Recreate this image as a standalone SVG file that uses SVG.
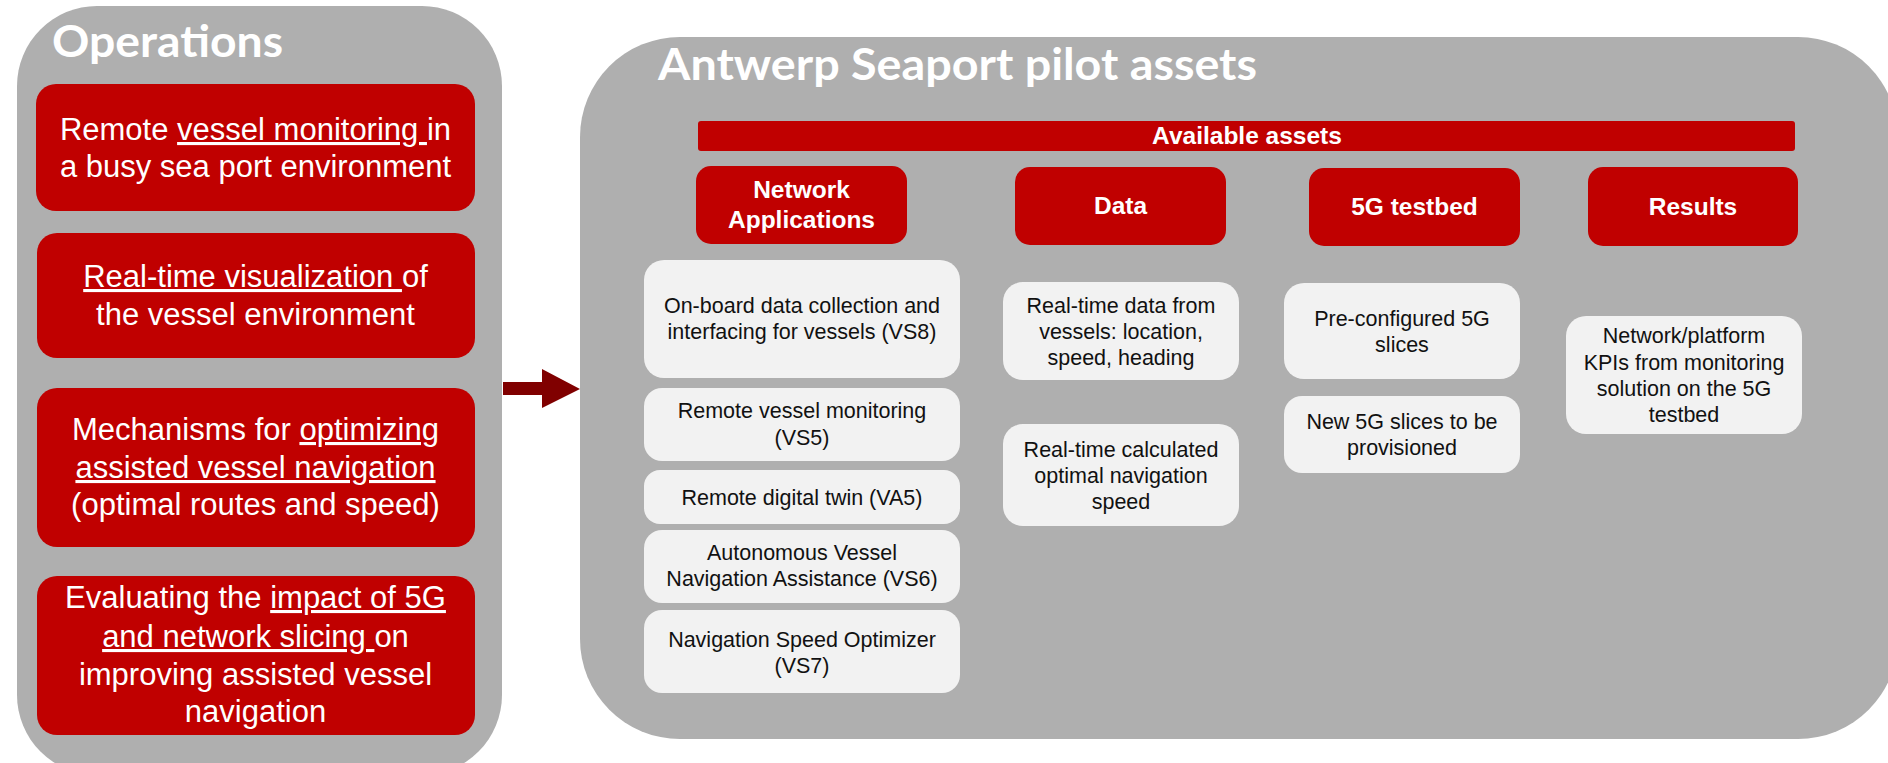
<svg xmlns="http://www.w3.org/2000/svg" width="1888" height="763" viewBox="0 0 1888 763">
<style>
.panel{fill:#AFAFAF}
.red{fill:#C00000}
.wbox{fill:#F2F2F2}
.title{font-family:Lato,"Liberation Sans",sans-serif;font-weight:700;font-size:44px;fill:#FFFFFF}
.op{font-family:"Liberation Sans",Arial,sans-serif;font-size:31px;fill:#FFFFFF;text-anchor:middle}
.hd{font-family:"Liberation Sans",Arial,sans-serif;font-weight:700;font-size:24.5px;fill:#FFFFFF;text-anchor:middle}
.bx{font-family:"Liberation Sans",Arial,sans-serif;font-size:21.5px;fill:#111111;text-anchor:middle}
.u{text-decoration:underline}
</style>
<rect width="1888" height="763" fill="#FFFFFF"/>

<g id="operations-panel">
<rect class="panel" x="17" y="6" width="485" height="769" rx="80"/>
<text class="title" x="52" y="57" textLength="231" lengthAdjust="spacingAndGlyphs">Operations</text>
</g>

<g id="op1">
<rect class="red" x="36" y="84" width="439" height="127" rx="20"/>
<text class="op" x="255.5" y="140">Remote <tspan class="u">vessel monitoring </tspan>in</text>
<text class="op" x="255.5" y="177">a busy sea port environment</text>
</g>
<g id="op2">
<rect class="red" x="37" y="233" width="438" height="125" rx="20"/>
<text class="op" x="255.5" y="287"><tspan class="u">Real-time visualization </tspan>of</text>
<text class="op" x="255.5" y="325">the vessel environment</text>
</g>
<g id="op3">
<rect class="red" x="37" y="388" width="438" height="159" rx="20"/>
<text class="op" x="255.5" y="440">Mechanisms for <tspan class="u">optimizing</tspan></text>
<text class="op" x="255.5" y="478"><tspan class="u">assisted vessel navigation</tspan></text>
<text class="op" x="255.5" y="515">(optimal routes and speed)</text>
</g>
<g id="op4">
<rect class="red" x="37" y="576" width="438" height="159" rx="20"/>
<text class="op" x="255.5" y="608">Evaluating the <tspan class="u">impact of 5G</tspan></text>
<text class="op" x="255.5" y="647"><tspan class="u">and network slicing </tspan>on</text>
<text class="op" x="255.5" y="685">improving assisted vessel</text>
<text class="op" x="255.5" y="722">navigation</text>
</g>

<g id="connectors">
<polygon fill="#800000" points="503,382 542,382 542,369 580,389 542,408 542,395 503,395"/>
</g>

<g id="assets-panel">
<rect class="panel" x="580" y="37" width="1318" height="702" rx="100"/>
<text class="title" x="658" y="80" textLength="599" lengthAdjust="spacingAndGlyphs">Antwerp Seaport pilot assets</text>
</g>

<g id="available-assets">
<rect class="red" x="698" y="121" width="1097" height="30" rx="3"/>
<text class="hd" x="1247" y="144">Available assets</text>
</g>

<g id="hdr-netapps">
<rect class="red" x="696" y="166" width="211" height="78" rx="15"/>
<text class="hd" x="801.5" y="198">Network</text>
<text class="hd" x="801.5" y="228">Applications</text>
</g>
<g id="hdr-data">
<rect class="red" x="1015" y="167" width="211" height="78" rx="15"/>
<text class="hd" x="1120.5" y="214">Data</text>
</g>
<g id="hdr-5g">
<rect class="red" x="1309" y="168" width="211" height="78" rx="15"/>
<text class="hd" x="1414.5" y="215">5G testbed</text>
</g>
<g id="hdr-results">
<rect class="red" x="1588" y="167" width="210" height="79" rx="15"/>
<text class="hd" x="1693" y="215">Results</text>
</g>

<g id="vs8">
<rect class="wbox" x="644" y="260" width="316" height="118" rx="20"/>
<text class="bx" x="802" y="313">On-board data collection and</text>
<text class="bx" x="802" y="339">interfacing for vessels (VS8)</text>
</g>
<g id="vs5">
<rect class="wbox" x="644" y="388" width="316" height="73" rx="18"/>
<text class="bx" x="802" y="418">Remote vessel monitoring</text>
<text class="bx" x="802" y="445">(VS5)</text>
</g>
<g id="va5">
<rect class="wbox" x="644" y="470" width="316" height="54" rx="16"/>
<text class="bx" x="802" y="505">Remote digital twin (VA5)</text>
</g>
<g id="vs6">
<rect class="wbox" x="644" y="530" width="316" height="73" rx="18"/>
<text class="bx" x="802" y="560">Autonomous Vessel</text>
<text class="bx" x="802" y="586">Navigation Assistance (VS6)</text>
</g>
<g id="vs7">
<rect class="wbox" x="644" y="610" width="316" height="83" rx="18"/>
<text class="bx" x="802" y="647">Navigation Speed Optimizer</text>
<text class="bx" x="802" y="673">(VS7)</text>
</g>

<g id="data1">
<rect class="wbox" x="1003" y="282" width="236" height="98" rx="20"/>
<text class="bx" x="1121" y="313">Real-time data from</text>
<text class="bx" x="1121" y="339">vessels: location,</text>
<text class="bx" x="1121" y="365">speed, heading</text>
</g>
<g id="data2">
<rect class="wbox" x="1003" y="424" width="236" height="102" rx="20"/>
<text class="bx" x="1121" y="457">Real-time calculated</text>
<text class="bx" x="1121" y="483">optimal navigation</text>
<text class="bx" x="1121" y="509">speed</text>
</g>

<g id="slice1">
<rect class="wbox" x="1284" y="283" width="236" height="96" rx="20"/>
<text class="bx" x="1402" y="326">Pre-configured 5G</text>
<text class="bx" x="1402" y="352">slices</text>
</g>
<g id="slice2">
<rect class="wbox" x="1284" y="396" width="236" height="77" rx="18"/>
<text class="bx" x="1402" y="429">New 5G slices to be</text>
<text class="bx" x="1402" y="455">provisioned</text>
</g>

<g id="kpis">
<rect class="wbox" x="1566" y="316" width="236" height="118" rx="20"/>
<text class="bx" x="1684" y="343">Network/platform</text>
<text class="bx" x="1684" y="370">KPIs from monitoring</text>
<text class="bx" x="1684" y="396">solution on the 5G</text>
<text class="bx" x="1684" y="422">testbed</text>
</g>
</svg>
